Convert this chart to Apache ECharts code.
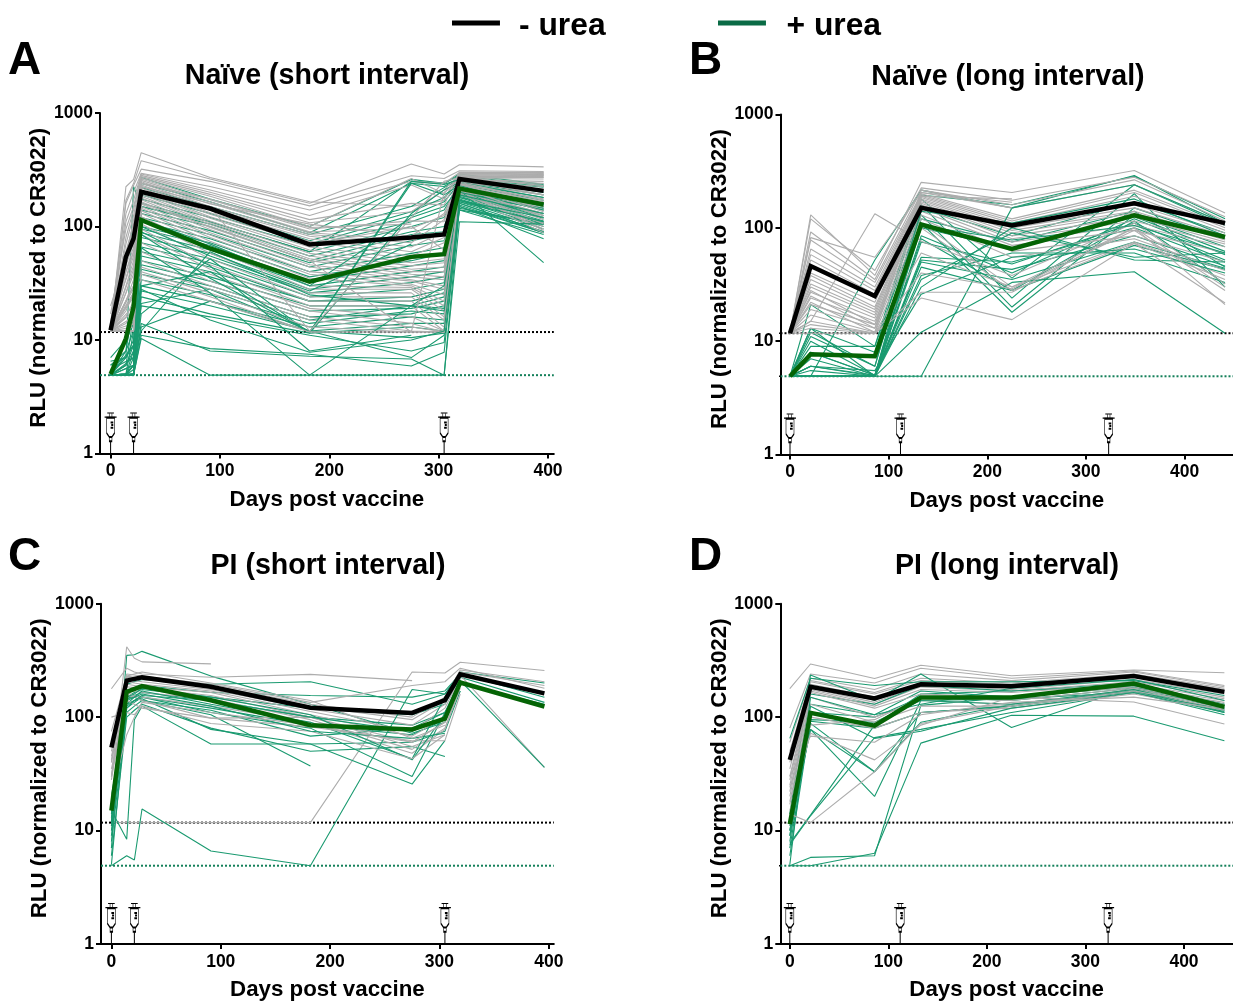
<!DOCTYPE html>
<html><head><meta charset="utf-8">
<style>html,body{margin:0;padding:0;background:#fff}#c{width:1233px;height:1002px}</style>
<script src="https://cdn.jsdelivr.net/npm/echarts@6/dist/echarts.min.js"></script>
</head><body><div id="c"></div>
<script>
const n = null;
const xTicks = [0,100,200,300,400];
const LOD_black = 11.75, LOD_green = 4.9;
const shortTimes = [0,14,21,28,91,182,275,305,319,396];
const longTimes  = [0,21,86,133,225,349,441];
const shortDoses = [0,21,305];
const longDoses  = [0,112,323];

const A_meanBlack = [12.2,54,78,202,144,69.5,80,85,262,206];
const A_meanGreen = [5,10.3,19.6,114,64,32.6,54,57,216,156];
const A_gray = [
[12,224,260,447,270,165,150,170,300,300],
[12,170,240,380,262,160,355,290,350,335],
[14,160,230,320,250,152,280,265,310,305],
[12,130,200,295,225,140,250,240,300,298],
[12,110,170,290,210,125,232,175,295,292],
[17,95,150,282,200,115,160,155,290,288],
[12,80,140,275,192,108,135,210,285,285],
[12,70,125,268,185,100,265,195,280,280],
[12,60,105,262,172,95,112,110,278,275],
[12,55,95,255,165,90,96,125,275,272],
[20,n,88,248,158,105,82,130,262,295],
[12,n,n,240,150,85,72,115,268,282],
[12,50,80,232,145,82,66,90,272,270],
[12,45,72,225,140,78,60,80,265,262],
[12,40,66,218,132,74,55,72,258,250],
[12,n,60,210,128,70,100,62,255,240],
[14,34,55,205,122,66,52,58,250,225],
[12,30,50,198,118,62,48,52,245,205],
[12,n,45,192,112,58,45,48,240,190],
[12,26,42,185,108,55,42,44,235,175],
[12,n,38,178,104,52,40,40,230,165],
[12,22,34,172,98,50,38,36,225,155],
[12,n,30,165,94,46,36,34,220,145],
[12,18,26,158,88,44,34,30,215,138],
[12,n,24,150,84,40,33,28,210,130],
[12,16,22,145,80,38,31,25,205,125],
[12,n,20,138,74,35,30,22,205,115],
[12,14,18,130,70,30,29,20,200,108],
[12,n,16,122,64,28,28,18,198,100],
[12,12,15,115,58,26,26,16,205,95],
[12,n,14,105,52,24,24,15,210,92],
[12,12,14,95,46,22,22,13,195,88],
[12,n,13,85,42,20,20,12,215,105],
[12,12,12,72,38,19,16,12,225,120],
[12,n,12,60,33,18,14,11.75,240,140],
[12,12,12,50,30,16,13,11.75,250,160],
[12,n,12,44,28,15,12,11.75,230,135],
[12,12,12,40,26,13,11.75,11.75,220,125],
[12,n,n,38,24,11.75,11.75,11.75,235,150],
[12,n,n,34,22,11.75,11.75,11.75,245,170],
[12,n,30,240,175,98,105,n,n,n],
[12,n,25,225,160,88,76,n,n,n],
[12,40,60,200,150,12,120,250,270,230],
[12,n,18,160,100,50,11.75,200,260,190]
];
const A_green = [
[4.9,7,225,150,110,60,250,240,290,235],
[6,8,20,270,175,100,260,240,280,230],
[4.9,6,16,240,165,88,240,225,270,225],
[4.9,n,14,220,150,85,150,220,260,222],
[7,10,18,205,140,75,135,180,250,190],
[4.9,5,12,190,130,70,125,165,240,180],
[4.9,n,9,175,120,68,110,140,235,170],
[4.9,8,12,160,110,60,100,120,225,160],
[4.9,5,8,150,105,55,90,100,215,150],
[6.5,7,10,140,100,50,85,90,210,145],
[4.9,4.9,7,130,92,48,75,85,205,140],
[4.9,n,6,120,85,44,68,75,200,130],
[4.9,4.9,5.5,110,78,40,58,65,195,125],
[4.9,n,4.9,100,72,36,50,58,190,118],
[4.9,6,8,95,68,33,45,50,185,112],
[4.9,4.9,6,88,62,30,40,44,180,108],
[4.9,n,5,80,58,28,36,40,175,105],
[4.9,4.9,4.9,72,52,26,32,36,170,100],
[5.5,n,7,66,48,24,28,32,165,95],
[4.9,5,6,60,44,22,24,28,160,90],
[4.9,4.9,5,55,40,22,22,26,155,88],
[4.9,n,4.9,50,36,20,20,24,150,78],
[4.9,4.9,4.9,46,33,18,19,22,145,105],
[6,7,9,42,30,16,17,20,140,105],
[4.9,n,6,38,28,15,20,19,180,130],
[4.9,5,5,34,25,14,18,17,190,145],
[4.9,4.9,4.9,30,22,13,16,15,195,155],
[4.9,n,4.9,27,20,12,14,14,200,120],
[4.9,4.9,5,24,17,11.5,13,12,170,110],
[4.9,n,4.9,21,28,12,10.5,11.5,210,48],
[4.9,4.9,4.9,11,8.4,7.5,5.9,7.8,160,90],
[4.9,4.9,5,14,8,7.2,6.8,4.9,150,88],
[4.9,n,4.9,10.3,4.9,4.9,4.9,4.9,110,105],
[4.9,4.9,4.9,20,16,11,8,9.5,140,85],
[4.9,n,4.9,13,22,12,7,11,170,120],
[4.9,4.9,6,12,60,25,20,18,200,140],
[4.9,n,4.9,17,52,11.5,130,210,245,180],
[5,6,9,30,40,11.75,240,190,230,150],
[4.9,n,5,65,26,4.9,20,30,190,130],
[4.9,5,6,85,35,11.75,250,235,260,200],
[4.9,n,4.9,28,15,7.8,10,12,165,110],
[4.9,4.9,5,115,70,30,120,150,220,160],
[4.9,n,7,100,55,27,70,n,n,n],
[4.9,5,6,90,45,8,11,n,n,n]
];

const B_meanBlack = [11.75,46,25,150,105,165,110];
const B_meanGreen = [4.9,7.66,7.35,107,65,129,83];
const B_gray = [
[11.75,130,38,252,205,320,135],
[11.75,120,42,225,175,280,125],
[11.75,92,35,215,160,265,115],
[11.75,82,55,205,150,240,110],
[11.75,78,33,200,120,215,105],
[11.75,65,30,195,115,205,100],
[11.75,58,28,190,110,190,95],
[11.75,52,26,185,105,160,90],
[11.75,46,24,180,100,150,85],
[11.75,40,22,175,95,140,80],
[11.75,38,20,170,90,135,78],
[11.75,35,19,165,85,125,75],
[11.75,32,18,160,80,115,72],
[11.75,30,17,150,75,105,68],
[11.75,27,16,140,70,95,60],
[11.75,24,15,130,62,85,50],
[11.75,21,14,120,55,80,42],
[11.75,19,13,110,30,75,38],
[11.75,17,12,100,28,73,35],
[11.75,15,133,76,38,110,32],
[11.75,14,11.75,60,30,100,30],
[11.75,13,11.75,40,29,95,28],
[11.75,11.75,11.75,27,27,100,21],
[11.75,15,11.75,24,15.5,73,21.7],
[11.75,25,13,190,180,n,n],
[11.75,22,12,205,168,n,n],
[11.75,28,14,215,150,n,n]
];
const B_green = [
[4.9,4.9,52,215,150,290,110],
[4.9,21,9,195,160,285,120],
[4.9,13,8,180,36,240,105],
[4.9,11,6,160,24,200,30],
[4.9,10,5,150,85,170,90],
[4.9,9,9,130,20,150,80],
[4.9,8,5,120,75,140,45],
[4.9,7,4.9,110,18,130,68],
[4.9,6,5,100,65,125,62],
[4.9,5.5,4.9,85,40,120,58],
[4.9,13,4.9,80,28,115,32],
[4.9,4.9,4.9,75,48,110,52],
[4.9,4.9,4.9,55,50,100,50],
[4.9,6,4.9,52,43,85,46],
[4.9,4.9,4.9,50,35,75,44],
[4.9,4.9,4.9,45,28,70,43],
[4.9,4.9,4.9,38,60,60,33],
[4.9,4.9,4.9,35,90,55,60],
[4.9,4.9,4.9,30,100,52,50],
[4.9,4.9,4.9,12,33,41,11.75],
[4.9,4.9,4.9,4.9,150,240,110],
[4.9,6,5.5,26,55,65,40],
[4.9,12,6,140,110,180,85],
[4.9,8,5,105,78,105,60]
];

const C_meanBlack = [54,210,n,224,185,121,109,141,239,162];
const C_meanGreen = [15,167,n,188,141,85,78,97,202,124];
const C_gray = [
[30,417,330,307,295,n,n,n,n,n],
[178,270,250,240,225,238,210,n,n,n],
[11.75,11.75,11.75,11.75,11.75,11.75,250,245,305,258],
[55,240,235,230,195,135,190,205,270,180],
[75,230,225,220,190,130,100,150,260,205],
[40,225,220,215,185,125,95,140,250,190],
[30,215,210,205,175,118,85,130,235,36],
[50,205,200,195,170,112,75,120,225,n],
[40,195,190,185,165,105,68,100,215,n],
[28,185,182,180,155,100,60,90,200,n],
[45,175,170,165,145,95,52,80,190,n],
[60,165,155,150,125,90,48,78,180,n],
[30,155,150,140,98,100,55,70,n,n],
[35,140,130,120,98,82,62,62,160,n],
[100,110,105,125,88,75,43,70,n,n],
[20,70,100,135,110,85,60,90,n,n],
[42,230,240,250,200,140,65,85,n,n]
];
const C_green = [
[7,350,355,380,230,130,72,90,225,n],
[12,195,205,215,195,205,130,160,250,200],
[14,170,180,190,165,155,150,170,240,150],
[18,150,165,175,150,120,105,130,225,135],
[10,145,155,165,140,100,85,110,215,n],
[12,120,135,150,120,85,70,95,205,n],
[8,110,125,140,115,68,80,110,190,n],
[20,130,140,145,78,58,60,75,170,n],
[6,100,115,130,80,50,55,45,n,n],
[16,145,150,140,105,37,n,n,n,n],
[15,8.4,95,125,58,58,25.7,62,n,n],
[11,120,140,150,110,80,30,110,170,n],
[4.9,6,5.5,15.5,6.6,4.9,175,160,240,n],
[5,130,150,170,130,90,43,150,210,36],
[13,150,160,180,150,105,42,105,200,n],
[9,140,150,160,125,75,65,72,n,n],
[11,125,140,155,140,100,75,100,200,130]
];

const D_meanBlack = [42,185,146,195,187,230,167];
const D_meanGreen = [11.4,109,84,149,149,198,123];
const D_gray = [
[178,294,219,287,232,260,246],
[80,240,200,270,220,255,190],
[60,220,175,240,210,250,185],
[50,210,165,220,200,240,180],
[45,205,160,210,195,235,175],
[40,195,150,200,190,230,170],
[35,190,140,195,185,225,165],
[30,180,135,190,175,215,160],
[28,175,130,185,170,205,150],
[25,170,125,175,165,195,145],
[22,165,120,160,150,185,140],
[20,150,100,140,130,175,130],
[18,130,90,125,125,165,120],
[17,100,80,110,120,160,115],
[15,72,42,85,150,136,87],
[14,11.75,33,88,125,170,125],
[30,68,60,105,135,150,118],
[24,85,95,150,140,180,135]
];
const D_green = [
[4.9,4.9,6.3,59,104,102,62],
[4.9,5.8,6,127,150,185,120],
[7.7,13.7,85,160,170,200,130],
[7.5,13.5,66,78,110,165,105],
[10,78,20,140,145,165,118],
[11,78,33,90,130,170,115],
[9,88,33,110,125,175,110],
[14,235,140,240,81,185,120],
[65,220,190,205,205,210,155],
[12,160,130,190,170,190,130],
[9,130,105,170,150,190,125],
[8,110,100,150,140,180,120],
[7,95,90,140,130,175,115],
[6,92,80,110,125,170,112],
[5,150,105,130,180,215,140],
[10,125,65,75,120,165,110]
];

const panels = [
 {letter:'A',title:'Naïve (short interval)',times:shortTimes,doses:shortDoses,gray:A_gray,green:A_green,black:A_meanBlack,mean:A_meanGreen,
  left:100,right:553.8,top:113,bottom:453.5,x0:110.6,x400:548,lx:8,ly:61.5,tx:327,ty:76},
 {letter:'B',title:'Naïve (long interval)',times:longTimes,doses:longDoses,gray:B_gray,green:B_green,black:B_meanBlack,mean:B_meanGreen,
  left:780.5,right:1233,top:114.5,bottom:454.5,x0:790,x400:1184.6,lx:689,ly:61.5,tx:1008,ty:77},
 {letter:'C',title:'PI (short interval)',times:shortTimes,doses:shortDoses,gray:C_gray,green:C_green,black:C_meanBlack,mean:C_meanGreen,
  left:101,right:553.8,top:603.7,bottom:944,x0:111.4,x400:548.8,lx:8,ly:557,tx:328,ty:566},
 {letter:'D',title:'PI (long interval)',times:longTimes,doses:longDoses,gray:D_gray,green:D_green,black:D_meanBlack,mean:D_meanGreen,
  left:780.3,right:1233,top:603.7,bottom:944,x0:789.8,x400:1184,lx:689,ly:557,tx:1007,ty:566}
];

const FONT = '"Liberation Sans", Arial, sans-serif';
const SYR_BODY = 'path://M44 38H44.01M80 162H80.01M50 54H74V100L66 112H58L50 100ZM58 112H66V125H58ZM58 40V52M66 40V52M62 68H70M64 76H70M62 84H70';
const SYR_SOLID = 'path://M52 38H72V41H52ZM44 50H80V53.5H44ZM60.5 125H63.5V162H60.5Z';
const LEG_BAR = 'path://M0 0H48V5H0ZM0 11H0.01V11.01H0Z';
const GREEN_THIN = '#1a9a70', GRAY_THIN = '#adadad', GREEN_MEAN = '#056405', GREEN_LEG = '#0a6b45';

const zip = (ts, vs) => ts.map((t,i)=>[t,vs[i]]).filter(p=>p[1]!=null);
const grid=[],xAxis=[],yAxis=[],series=[],title=[];
panels.forEach((p,i)=>{
  const pxDay=(p.x400-p.x0)/400;
  const xmin=(p.left-p.x0)/pxDay, xmax=(p.right-p.x0)/pxDay;
  grid.push({left:p.left,top:p.top,width:p.right-p.left,height:p.bottom-p.top});
  xAxis.push({type:'value',gridIndex:i,min:xmin,max:xmax,name:'Days post vaccine',nameLocation:'middle',nameGap:35,
    nameTextStyle:{fontFamily:FONT,fontWeight:'bold',fontSize:22.3,color:'#000'},
    axisLine:{onZero:false,lineStyle:{color:'#000',width:2}},
    axisTick:{length:5,lineStyle:{color:'#000',width:2},customValues:xTicks},
    axisLabel:{margin:9,fontFamily:FONT,fontWeight:'bold',fontSize:17.5,color:'#000',customValues:xTicks,showMinLabel:true,showMaxLabel:true},
    splitLine:{show:false}});
  yAxis.push({type:'log',logBase:10,gridIndex:i,min:1,max:1000,name:'RLU (normalized to CR3022)',nameLocation:'middle',nameGap:46,
    nameTextStyle:{fontFamily:FONT,fontWeight:'bold',fontSize:22.3,color:'#000',padding:[0,0,0,11]},
    axisLine:{onZero:false,lineStyle:{color:'#000',width:2}},
    axisTick:{length:5,lineStyle:{color:'#000',width:2}},
    axisLabel:{margin:7,fontFamily:FONT,fontWeight:'bold',fontSize:17.5,color:'#000',formatter:v=>String(v)},
    minorTick:{show:false},splitLine:{show:false},minorSplitLine:{show:false}});
  const base={xAxisIndex:i,yAxisIndex:i,type:'line',showSymbol:false,silent:true,animation:false};
  [[LOD_black,'#000'],[LOD_green,'#14805a']].forEach(([v,c])=>{
    series.push({...base,name:'lod',z:2,data:[[xmin,v],[xmax,v]],lineStyle:{color:c,width:2,type:[2,2]}});
    series.push({...base,name:'lodtick',z:2,clip:false,data:[[xmin-5/pxDay,v],[xmin,v]],lineStyle:{color:'#000',width:1.5}});
  });
  const rows=Math.max(p.gray.length,p.green.length);
  for(let r=0;r<rows;r++){
    if(p.green[r]) series.push({...base,name:'g',z:3,data:zip(p.times,p.green[r]),lineStyle:{color:GREEN_THIN,width:1.1}});
    if(p.gray[r]) series.push({...base,name:'k',z:3,data:zip(p.times,p.gray[r]),lineStyle:{color:GRAY_THIN,width:1.1}});
  }
  series.push({...base,name:'- urea',z:6,data:zip(p.times,p.black),lineStyle:{color:'#000',width:4.5,join:'miter'}});
  series.push({...base,name:'+ urea',z:6,data:zip(p.times,p.mean),lineStyle:{color:GREEN_MEAN,width:4.5,join:'miter'}});
  const doseBase={xAxisIndex:i,yAxisIndex:i,type:'scatter',name:'dose',silent:true,clip:false,animation:false,
    symbolSize:[12,41],symbolOffset:[0,'-50%'],data:p.doses.map(d=>[d,1])};
  series.push({...doseBase,z:7,symbol:SYR_BODY,itemStyle:{color:'#fff',borderColor:'#000',borderWidth:1.1,opacity:1}});
  series.push({...doseBase,z:8,symbol:SYR_SOLID,itemStyle:{color:'#000',opacity:1}});
  title.push({text:p.title,left:p.tx,top:p.ty,textAlign:'center',textVerticalAlign:'middle',padding:0,
    textStyle:{fontFamily:FONT,fontWeight:'bold',fontSize:28.6,color:'#000'}});
  title.push({text:p.letter,left:p.lx,top:p.ly,textVerticalAlign:'middle',padding:0,
    textStyle:{fontFamily:FONT,fontWeight:'bold',fontSize:46,color:'#000'}});
});
const legText={fontFamily:FONT,fontWeight:'bold',fontSize:31.8,color:'#000'};
const legend=[
 {left:452,top:10,itemWidth:48,itemHeight:11,itemGap:0,padding:0,selectedMode:false,
  data:[{name:'- urea',icon:LEG_BAR,itemStyle:{color:'#000',borderWidth:0}}],textStyle:{...legText,padding:[0,0,0,14]}},
 {left:718,top:10,itemWidth:49,itemHeight:11,itemGap:0,padding:0,selectedMode:false,
  data:[{name:'+ urea',icon:LEG_BAR,itemStyle:{color:GREEN_LEG,borderWidth:0}}],textStyle:{...legText,padding:[0,0,0,15]}}
];
const chart=echarts.init(document.getElementById('c'),null,{renderer:'canvas'});
chart.setOption({animation:false,backgroundColor:'#fff',grid,xAxis,yAxis,series,title,legend,tooltip:{show:false}});
</script></body></html>
